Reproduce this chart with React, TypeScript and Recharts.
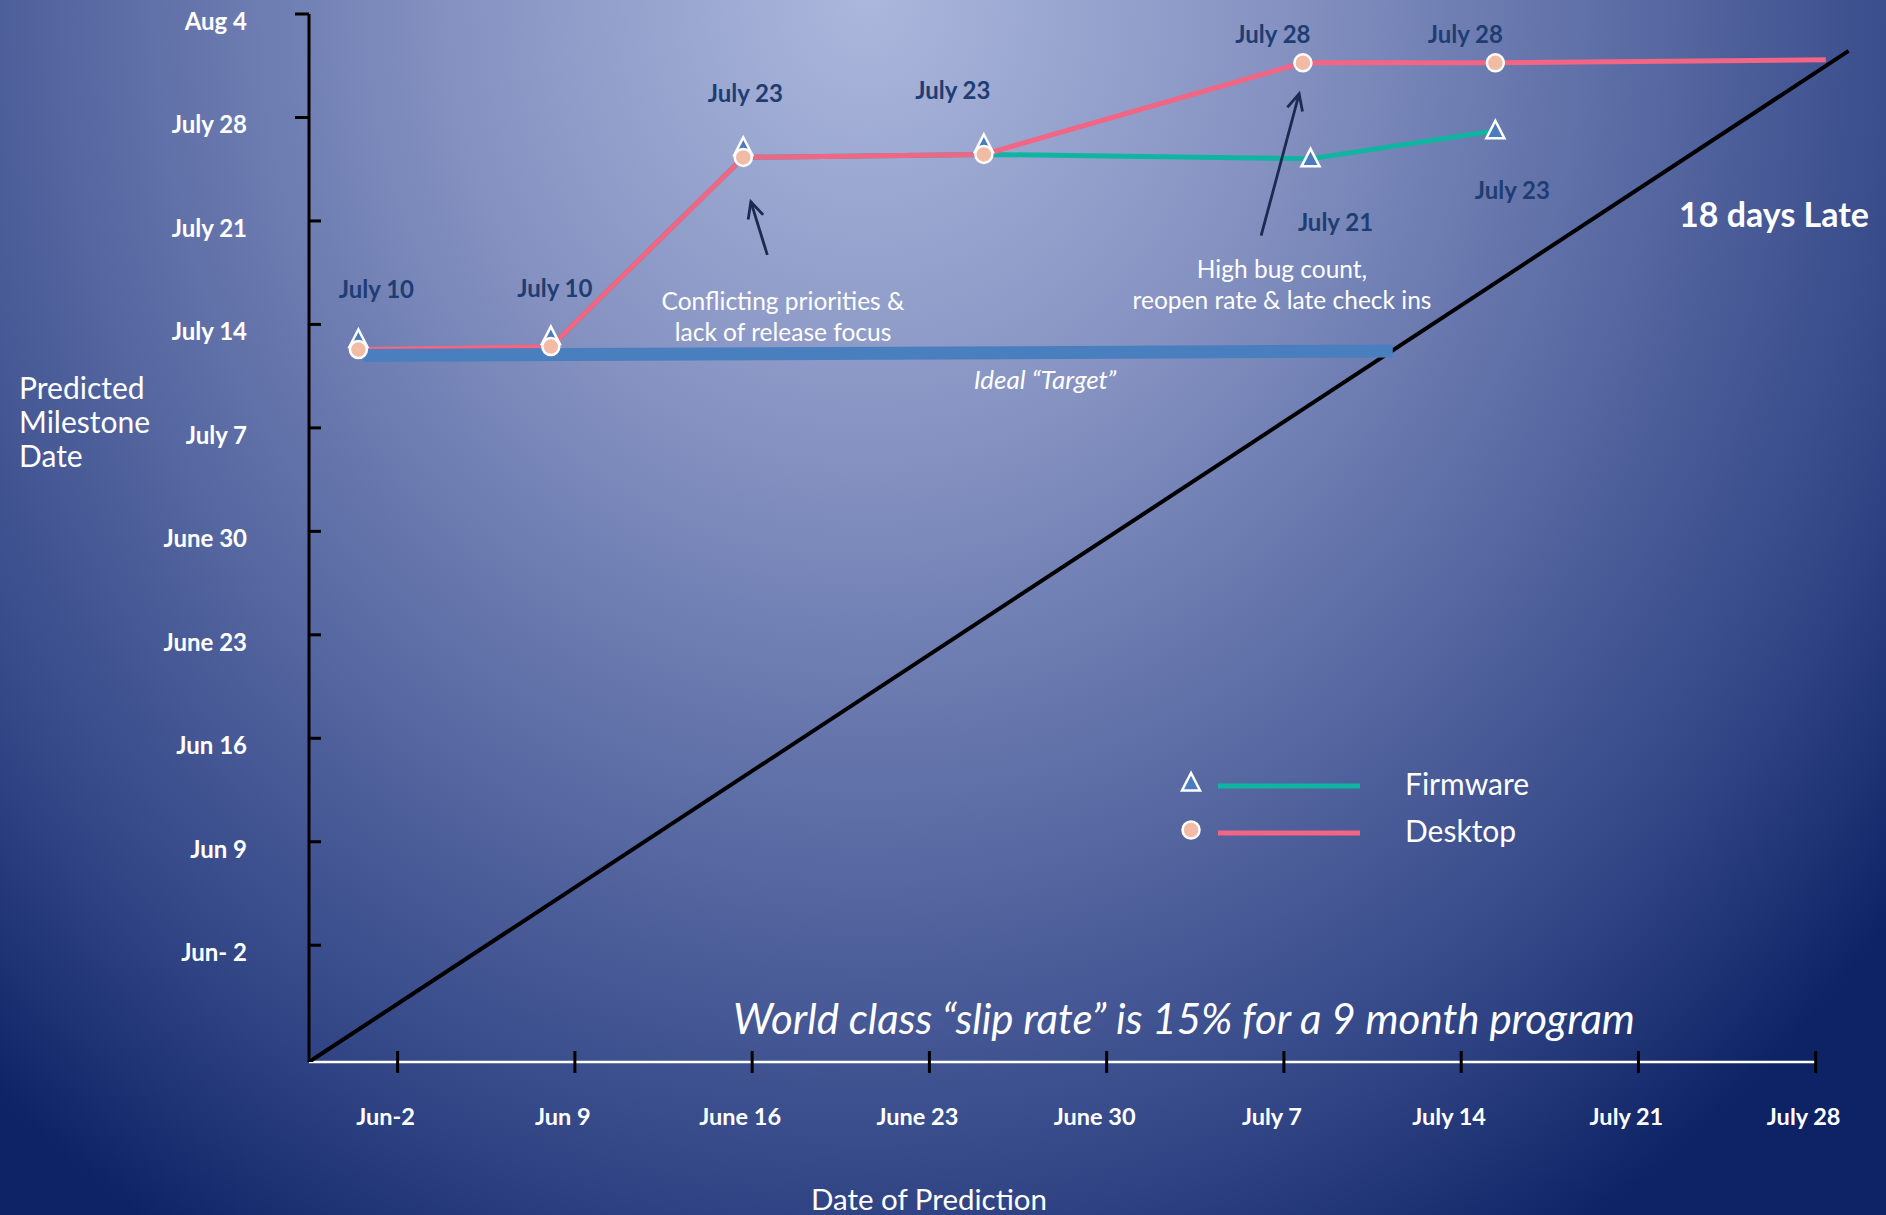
import { LineChart, Line, XAxis, YAxis, ReferenceLine, LabelList, Legend } from 'recharts'

const W = 1886
const H = 1215
const FONT = 'Lato, "Open Sans", sans-serif'

// all dates are counted in days from June 2
const xTicks = [0, 7, 14, 21, 28, 35, 42, 49, 56]
const xTickLabels = ['Jun-2', 'Jun 9', 'June 16', 'June 23', 'June 30', 'July 7', 'July 14', 'July 21', 'July 28']
const yTicks = [0, 7, 14, 21, 28, 35, 42, 49, 56, 63]
const yTickLabels = ['Jun- 2', 'Jun 9', 'Jun 16', 'June 23', 'June 30', 'July 7', 'July 14', 'July 21', 'July 28', 'Aug 4']

const desktopX = [-1.55, 6.05, 13.65, 23.15, 35.75, 43.35, 56.4]
const desktopY = [40.3, 40.5, 53.3, 53.5, 59.7, 59.7, 59.9]
const desktopLabels = ['', '', '', '', 'July 28', 'July 28', '']

// first four predictions are the same as Desktop (marker sits on top of the circle)
const firmwareX = [-1.55, 6.05, 13.65, 23.15, 36.05, 43.35]
const firmwareY = [40.3, 40.5, 53.3, 53.5, 53.2, 55.1]
const firmwareLabels = ['July 10', 'July 10', 'July 23', 'July 23', 'July 21', 'July 23']

const targetX = [-1.35, 39.3]
const targetY = [39.9, 40.2]

const onTimeX = [-3.5, 57.3]
const onTimeY = [-7.9, 60.5]

// arrows: [tail, head] as [day of prediction, predicted day]
const arrowPriorities = [[14.6, 46.7], [13.95, 50.3]]
const arrowBugs = [[34.1, 48.0], [35.6, 57.6]]

const X_DOMAIN = [-3.5, 58.5]
const Y_DOMAIN = [-7.9, 63]

const zip = (xs: number[], ys: number[], labels?: string[]) =>
  xs.map((x, i) => ({ x, y: ys[i], label: labels ? labels[i] : '' }))

const desktopData = zip(desktopX, desktopY, desktopLabels)
const firmwareData = zip(firmwareX, firmwareY, firmwareLabels)
const targetData = zip(targetX, targetY)
const onTimeData = zip(onTimeX, onTimeY)

const PINK = '#f36584'
const TEAL = '#0fb5a1'
const LABEL_BLUE = '#1f3d72'

// label nudges, in pixels [dx, dy] from the point
const firmwareShift = [[18, -60], [4, -58], [2, -63], [-31, -63], [25, 64], [17, 60]]
const desktopShift = [[0, 0], [0, 0], [0, 0], [0, 0], [-30, -28], [-30, -28], [0, 0]]

const makeLabel = (shift: number[][]) => (props: any) => {
  const { x, y, value, index } = props
  if (!value) return null
  const [dx, dy] = shift[index]
  return (
    <text x={x + dx} y={y + dy + 8} textAnchor="middle" fill={LABEL_BLUE}
      fontFamily={FONT} fontWeight={700} fontSize={24}>
      {value}
    </text>
  )
}

const circleDot = (props: any) => {
  const { cx, cy, index } = props
  if (index === desktopX.length - 1) return <g key={`d${index}`} />
  return <circle key={`d${index}`} cx={cx} cy={cy} r={8.5} fill="#f2bba5" stroke="#fff" strokeWidth={2.5} />
}

const triangle = (cx: number, cy: number) =>
  `${cx},${cy - 10} ${cx - 9},${cy + 7.5} ${cx + 9},${cy + 7.5}`

const triangleDot = (props: any) => {
  const { cx, cy, index } = props
  // where it shares a point with Desktop the marker peeks out above the circle
  const lift = index < 4 ? 10 : 0
  return <polygon key={`f${index}`} points={triangle(cx, cy - lift)} fill="#4a7bbf" stroke="#fff" strokeWidth={2.5} />
}

const XTick = (props: any) => {
  const { x, y, payload } = props
  const label = xTickLabels[xTicks.indexOf(payload.value)]
  return (
    <g>
      <line x1={x} x2={x} y1={y - 11} y2={y + 11} stroke="#000" strokeWidth={3} />
      <text x={x - 12} y={y + 63} textAnchor="middle" fill="#fff" fontFamily={FONT} fontWeight={700} fontSize={23.5}>
        {label}
      </text>
    </g>
  )
}

const YTick = (props: any) => {
  const { x, y, payload } = props
  const label = yTickLabels[yTicks.indexOf(payload.value)]
  const left = payload.value >= 56
  return (
    <g>
      <line x1={left ? x - 14 : x} x2={left ? x : x + 12} y1={y} y2={y} stroke="#000" strokeWidth={3} />
      <text x={x - 62} y={y + 16} textAnchor="end" fill="#fff" fontFamily={FONT} fontWeight={700} fontSize={24}>
        {label}
      </text>
    </g>
  )
}

const Arrow = (props: any) => {
  const { x1, y1, x2, y2 } = props
  const a = Math.atan2(y2 - y1, x2 - x1)
  const len = 18
  const spread = 0.45
  const p1 = [x2 - len * Math.cos(a - spread), y2 - len * Math.sin(a - spread)]
  const p2 = [x2 - len * Math.cos(a + spread), y2 - len * Math.sin(a + spread)]
  return (
    <g stroke="#1a2b4f" strokeWidth={2.8} fill="none">
      <line x1={x1} y1={y1} x2={x2} y2={y2} />
      <polyline points={`${p1[0]},${p1[1]} ${x2},${y2} ${p2[0]},${p2[1]}`} />
    </g>
  )
}

const legendOrder = ['Firmware', 'Desktop']

const renderLegend = (props: any) => {
  const items = legendOrder
    .map((name) => (props.payload || []).find((p: any) => p.value === name))
    .filter(Boolean)
  return (
    <div style={{ position: 'relative', width: 420, height: 100 }}>
      <svg width={220} height={100} style={{ position: 'absolute', left: 0, top: 0 }}>
        {items.map((it: any, i: number) => {
          const cy = 23 + i * 47
          return (
            <g key={it.value}>
              {it.value === 'Firmware'
                ? <polygon points={triangle(16, cy)} fill="#4a7bbf" stroke="#fff" strokeWidth={2.5} />
                : <circle cx={16} cy={cy} r={8.5} fill="#f2bba5" stroke="#fff" strokeWidth={2.5} />}
              <line x1={43} x2={185} y1={cy + 3} y2={cy + 3} stroke={it.color} strokeWidth={5} />
            </g>
          )
        })}
      </svg>
      {items.map((it: any, i: number) => (
        <div key={it.value} style={{
          position: 'absolute', left: 230, top: 23 + i * 47 - 19, height: 38, lineHeight: '38px',
          color: '#fff', fontFamily: FONT, fontSize: 30,
        }}>{it.value}</div>
      ))}
    </div>
  )
}

const Note = ({ x, y, style, children }: any) => (
  <div style={{
    position: 'absolute', left: x, top: y, transform: 'translate(-50%, -50%)', whiteSpace: 'nowrap',
    color: '#fff', fontFamily: FONT, textAlign: 'center', ...style,
  }}>{children}</div>
)

export default function App() {
  return (
    <div style={{
      position: 'absolute', left: 0, top: 0, width: W, height: H, overflow: 'hidden',
      background: 'radial-gradient(ellipse 70% 120% at 46% 0%, #abb7dc 0%, #8794c3 30%, #5a6ba4 58%, #2f4384 84%, #0e2365 100%)',
    }}>
      <LineChart width={W} height={H} margin={{ top: 14, right: 7, bottom: 93, left: 209 }}>
        <XAxis type="number" dataKey="x" domain={X_DOMAIN} allowDataOverflow ticks={xTicks} interval={0}
          axisLine={false} tickLine={false} tickSize={0} tickMargin={0} height={60} tick={<XTick />} />
        <YAxis type="number" domain={Y_DOMAIN} allowDataOverflow ticks={yTicks} interval={0}
          axisLine={{ stroke: '#000', strokeWidth: 3 }} tickLine={false} tickSize={0} tickMargin={0} width={100}
          tick={<YTick />} />
        <ReferenceLine segment={[{ x: -3.5, y: -7.9 }, { x: 56, y: -7.9 }]} stroke="#fff" strokeWidth={2.5} />
        <Line data={onTimeData} dataKey="y" type="linear" stroke="#000" strokeWidth={4} dot={false}
          legendType="none" isAnimationActive={false} />
        <Line data={firmwareData} dataKey="y" name="Firmware" type="linear" stroke={TEAL} strokeWidth={5}
          dot={triangleDot} isAnimationActive={false}>
          <LabelList dataKey="label" content={makeLabel(firmwareShift)} />
        </Line>
        <Line data={desktopData} dataKey="y" name="Desktop" type="linear" stroke={PINK} strokeWidth={5}
          dot={circleDot} isAnimationActive={false}>
          <LabelList dataKey="label" content={makeLabel(desktopShift)} />
        </Line>
        <Line data={targetData} dataKey="y" type="linear" stroke="#4a7fbf" strokeWidth={13} strokeLinecap="butt"
          dot={false} legendType="none" isAnimationActive={false} />
        <ReferenceLine segment={arrowPriorities.map(([x, y]) => ({ x, y }))} shape={<Arrow />} />
        <ReferenceLine segment={arrowBugs.map(([x, y]) => ({ x, y }))} shape={<Arrow />} />
        <Legend layout="vertical" align="center" verticalAlign="middle" content={renderLegend}
          wrapperStyle={{ left: 1175, top: 760, width: 420, height: 100, right: 'auto', bottom: 'auto' }} />
      </LineChart>

      <div style={{
        position: 'absolute', left: 19, top: 370, color: '#fff', fontFamily: FONT, fontSize: 30, lineHeight: '34px',
      }}>
        Predicted<br />Milestone<br />Date
      </div>
      <Note x={783} y={316} style={{ fontSize: 24.5, lineHeight: '31px' }}>
        Conflicting priorities &amp;<br />lack of release focus
      </Note>
      <Note x={1282} y={284} style={{ fontSize: 24.5, lineHeight: '31px' }}>
        High bug count,<br />reopen rate &amp; late check ins
      </Note>
      <Note x={1045} y={379} style={{ fontSize: 26, fontStyle: 'italic' }}>Ideal “Target”</Note>
      <Note x={1774} y={213} style={{ fontSize: 34, fontWeight: 700 }}>18 days Late</Note>
      <Note x={1184} y={1018} style={{ fontSize: 42, fontStyle: 'italic' }}>
        World class “slip rate” is 15% for a 9 month program
      </Note>
      <Note x={929} y={1198} style={{ fontSize: 29.5 }}>Date of Prediction</Note>
    </div>
  )
}
